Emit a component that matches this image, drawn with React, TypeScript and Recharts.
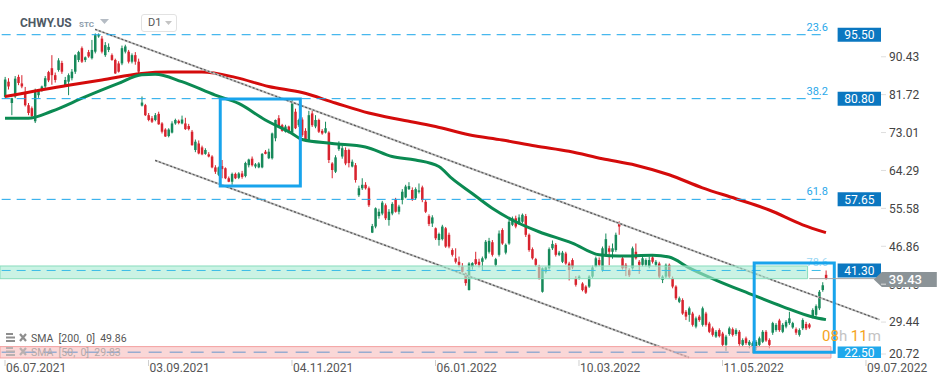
import {
  Bar,
  ComposedChart,
  Line,
  ReferenceArea,
  ReferenceLine,
  XAxis,
  YAxis,
} from "recharts";

// slot 0 is empty, candles start at slot 1, slots after the last candle stay empty
const SLOTS = 264;
const FIRST = 1;

// [open, high, low, close], one per trading day
const candles: [number, number, number, number][] = [
  [81.2, 85.8, 80.8, 85.2], [84.7, 85.5, 82.9, 83.6], [79.8, 81.0, 77.0, 80.9], [81.3, 86.0, 80.9, 85.4],
  [85.8, 86.3, 83.9, 84.4], [84.3, 86.2, 83.2, 83.6], [82.0, 83.5, 79.0, 79.3], [79.3, 79.8, 77.0, 77.5],
  [78.6, 79.0, 76.5, 76.8], [75.6, 83.1, 75.2, 82.8], [81.6, 83.0, 81.0, 82.7], [82.8, 83.8, 82.4, 83.6],
  [83.6, 86.0, 83.0, 85.5], [86.9, 87.2, 84.6, 85.0], [87.8, 90.8, 84.0, 86.2], [86.2, 86.8, 84.5, 85.1],
  [87.4, 90.1, 87.0, 89.6], [89.0, 89.5, 86.5, 87.0], [83.9, 85.8, 83.5, 85.1], [84.7, 86.6, 81.6, 86.2],
  [85.5, 87.6, 85.0, 87.0], [87.0, 91.0, 86.5, 90.8], [89.7, 91.8, 89.2, 91.5], [92.4, 92.8, 89.0, 89.3],
  [89.7, 90.5, 89.2, 90.3], [91.5, 92.0, 90.2, 90.5], [90.1, 94.3, 89.8, 92.0], [91.6, 95.8, 91.2, 95.4],
  [95.1, 95.8, 94.8, 95.4], [94.6, 95.2, 91.2, 91.6], [90.8, 93.8, 90.4, 93.1], [92.0, 93.5, 91.5, 92.7],
  [90.8, 91.2, 89.5, 89.7], [89.7, 90.0, 86.5, 86.6], [88.9, 89.4, 86.8, 87.0], [88.9, 93.0, 88.5, 92.4],
  [91.6, 93.2, 91.2, 92.8], [91.6, 92.0, 88.9, 89.3], [89.3, 91.2, 88.9, 90.8], [90.8, 91.5, 88.6, 89.3],
  [89.3, 90.0, 86.6, 87.0],
  // september gap down
  [79.2, 81.3, 79.0, 79.9], [79.3, 79.6, 76.8, 77.0], [77.0, 77.5, 75.6, 75.9], [76.3, 76.8, 75.2, 75.5],
  [75.9, 77.5, 75.6, 77.0], [77.3, 77.8, 74.8, 74.9], [75.1, 75.4, 72.8, 73.2], [73.7, 74.0, 72.0, 72.1],
  [72.2, 74.0, 71.9, 73.7], [73.0, 75.6, 72.8, 75.1], [75.1, 76.2, 74.8, 75.9], [75.7, 76.0, 74.9, 75.2],
  [75.1, 76.9, 74.9, 76.0], [75.1, 76.4, 73.6, 73.8], [74.5, 75.0, 73.5, 73.8], [73.2, 73.6, 70.0, 70.1],
  [69.0, 71.4, 68.5, 70.9], [70.5, 71.2, 68.0, 68.2], [69.6, 70.0, 67.8, 68.0], [68.1, 69.4, 67.9, 69.0],
  [68.0, 68.5, 67.3, 67.5], [67.5, 67.8, 64.8, 65.0], [65.0, 65.5, 63.5, 64.0], [63.3, 65.2, 63.0, 65.0],
  [65.3, 66.7, 62.5, 64.6], [64.8, 65.0, 62.3, 62.5], [62.5, 62.9, 61.6, 61.7], [61.7, 63.8, 61.0, 63.5],
  [63.5, 63.8, 62.3, 62.5], [62.6, 63.9, 62.3, 63.6], [63.6, 64.2, 62.4, 62.8], [63.0, 66.3, 62.7, 66.0],
  [65.5, 67.0, 65.0, 66.8], [67.0, 67.5, 65.2, 65.5], [65.2, 66.0, 64.8, 65.7], [65.0, 66.2, 64.8, 65.9],
  [65.0, 68.3, 64.8, 68.1], [68.6, 69.0, 68.0, 68.1], [67.1, 69.3, 66.9, 68.6], [67.1, 73.0, 66.8, 72.8],
  [71.7, 76.0, 71.0, 75.9], [76.3, 77.0, 74.3, 74.5], [74.7, 75.0, 73.2, 73.4], [73.2, 74.8, 73.0, 74.4],
  [74.4, 74.6, 72.8, 73.0], [73.0, 80.6, 72.5, 79.7], [77.8, 78.5, 73.8, 74.0], [74.7, 76.2, 74.3, 75.9],
  [76.0, 76.5, 72.0, 72.4], [73.4, 74.0, 71.0, 71.5], [71.3, 78.0, 71.0, 77.0], [77.4, 78.0, 74.3, 74.7],
  [74.4, 77.0, 74.0, 75.9], [75.9, 76.2, 72.9, 73.2], [73.4, 73.8, 72.5, 72.8], [73.0, 75.5, 72.8, 74.0],
  [73.0, 73.3, 66.0, 66.7], [65.9, 66.2, 62.5, 64.4], [64.0, 67.8, 63.7, 67.3], [69.2, 71.0, 68.8, 70.6],
  [67.5, 70.0, 67.0, 69.4], [69.0, 69.6, 65.5, 65.9], [69.0, 69.3, 65.0, 66.0], [65.2, 66.8, 65.0, 66.3],
  [65.5, 66.0, 61.5, 62.1], [58.6, 60.8, 58.2, 60.2], [60.2, 62.5, 59.8, 61.0], [61.0, 61.6, 59.9, 60.2],
  [60.2, 60.6, 55.9, 56.3],
  // december gap down
  [50.0, 52.0, 49.9, 51.5], [51.4, 55.8, 51.0, 55.6], [53.8, 55.5, 53.2, 54.8], [54.4, 57.3, 54.0, 56.9],
  [56.3, 56.7, 52.9, 53.3], [52.9, 55.4, 51.6, 54.8], [54.4, 57.0, 54.0, 56.6], [57.6, 58.0, 54.6, 54.8],
  [54.8, 56.4, 54.2, 56.0], [57.5, 60.0, 56.5, 59.4], [58.1, 61.0, 57.9, 60.6], [60.0, 61.6, 59.8, 60.7],
  [59.8, 60.4, 57.3, 57.7], [57.9, 60.4, 57.5, 60.0], [59.4, 61.3, 59.0, 59.7], [60.4, 60.8, 57.0, 57.5],
  [57.1, 57.5, 54.5, 54.8], [53.8, 54.2, 51.5, 52.0], [52.1, 54.0, 51.3, 53.5], [51.0, 51.2, 48.3, 48.7],
  [48.3, 50.0, 47.0, 49.7], [48.5, 51.8, 48.2, 51.4],
  [51.0, 51.3, 46.5, 46.8], [49.5, 50.0, 46.4, 46.8], [46.0, 46.4, 44.5, 44.9], [44.1, 46.4, 42.9, 43.3],
  [43.3, 44.5, 42.0, 42.6], [42.2, 43.0, 40.8, 41.0], [40.6, 40.8, 37.8, 38.4], [36.8, 43.2, 36.7, 42.9],
  [42.1, 43.2, 41.5, 43.0], [43.9, 45.6, 42.5, 42.8], [43.3, 44.0, 42.0, 42.6], [43.3, 44.5, 41.4, 44.1],
  [44.1, 48.3, 43.8, 47.9], [45.6, 48.8, 45.2, 48.1], [47.8, 48.3, 44.5, 44.9], [42.6, 44.2, 42.2, 43.9],
  [44.9, 50.5, 44.5, 49.8], [50.6, 51.0, 47.2, 47.5], [45.4, 47.5, 45.0, 47.2], [47.5, 53.0, 47.2, 52.5],
  [51.8, 53.7, 51.5, 53.3], [53.3, 53.9, 51.0, 51.4], [52.1, 54.2, 51.8, 53.5], [52.5, 54.4, 52.2, 54.1],
  [53.8, 54.3, 49.0, 49.5], [49.5, 49.8, 45.6, 46.0], [46.2, 46.6, 43.8, 44.1], [43.9, 44.2, 42.2, 42.6],
  [42.2, 42.6, 39.2, 39.5], [36.4, 42.0, 36.2, 41.8], [41.0, 42.2, 40.6, 42.0], [41.8, 46.6, 41.5, 46.2],
  [46.4, 48.2, 46.0, 47.4], [47.2, 47.6, 44.5, 44.9], [44.9, 45.8, 44.6, 45.4], [43.3, 45.8, 43.0, 45.4],
  [45.2, 45.6, 42.6, 42.9], [42.9, 43.3, 39.0, 41.4], [43.7, 44.1, 41.6, 42.0], [39.5, 40.0, 37.6, 38.0],
  [39.5, 40.2, 39.2, 39.9], [38.3, 38.6, 36.5, 36.8], [37.6, 37.9, 35.9, 36.2], [37.6, 40.2, 37.3, 39.9],
  [39.9, 42.4, 39.6, 42.0], [42.2, 44.5, 42.0, 44.1],
  [43.7, 44.3, 42.3, 42.6], [41.4, 46.8, 41.0, 46.4], [44.9, 49.8, 44.5, 48.5], [46.4, 47.0, 42.5, 45.6],
  [45.6, 47.5, 44.0, 46.4], [46.0, 50.0, 45.6, 49.5], [52.1, 52.6, 49.5, 51.4], [44.1, 44.5, 41.5, 41.8],
  [42.6, 43.0, 40.0, 41.8], [41.4, 41.8, 39.8, 40.2], [41.8, 46.8, 41.5, 46.4], [45.6, 47.5, 43.8, 44.1],
  [43.3, 43.7, 40.5, 42.6], [42.6, 44.5, 42.2, 44.1], [42.6, 44.1, 42.2, 43.7], [42.2, 44.5, 41.8, 43.7],
  [44.3, 44.9, 42.9, 43.3], [42.6, 43.7, 42.2, 43.3], [42.9, 43.3, 39.5, 39.9], [39.1, 40.2, 38.4, 39.9],
  [39.9, 42.9, 39.5, 42.6], [42.6, 42.9, 39.5, 39.9], [39.5, 39.9, 37.2, 37.6], [37.6, 37.9, 34.5, 34.9],
  [34.1, 35.3, 33.8, 34.9], [34.5, 34.9, 31.1, 31.4], [31.8, 32.2, 29.9, 30.7], [31.1, 33.0, 29.5, 32.6],
  [31.4, 31.8, 28.4, 28.8], [28.4, 30.7, 28.0, 30.3], [30.7, 31.1, 29.5, 29.9], [28.8, 33.0, 28.4, 32.6],
  [31.4, 31.8, 28.4, 28.8], [29.1, 29.5, 26.9, 27.2], [28.0, 28.4, 26.1, 26.5], [26.1, 27.6, 25.8, 27.2],
  [27.6, 28.0, 25.9, 26.2], [26.8, 27.2, 23.8, 24.2], [24.2, 26.5, 22.8, 26.1], [26.7, 28.4, 26.3, 28.0],
  [27.8, 28.2, 26.1, 26.5], [26.7, 28.0, 26.3, 27.6], [27.2, 27.6, 24.0, 24.4], [24.2, 25.7, 23.8, 25.3],
  [25.7, 26.1, 24.2, 24.6], [24.2, 25.3, 23.4, 24.9], [23.8, 25.0, 22.3, 24.6], [23.6, 25.3, 23.0, 24.9],
  [24.2, 26.1, 23.8, 25.7], [24.9, 27.6, 24.6, 27.2], [27.2, 27.6, 24.9, 25.2], [25.3, 25.7, 23.4, 24.2],
  [27.0, 29.5, 26.5, 29.2], [27.6, 29.2, 27.2, 28.8], [29.8, 30.2, 27.2, 27.6], [27.2, 29.2, 26.9, 28.8],
  [28.4, 29.9, 28.0, 29.5], [29.2, 31.8, 28.8, 30.3], [28.2, 29.5, 27.9, 29.2], [27.8, 28.2, 26.5, 27.0],
  [26.5, 28.0, 26.1, 27.6], [28.0, 30.3, 27.6, 29.9], [29.0, 29.5, 27.6, 28.0], [28.9, 29.2, 27.9, 28.2],
  [30.7, 32.6, 30.3, 32.2], [31.1, 33.5, 30.7, 33.1], [32.6, 36.8, 32.2, 36.4], [36.8, 38.6, 36.4, 37.9],
  [40.3, 41.3, 39.2, 39.4],
];

// moving averages: [slot, value]
const sma200Pts: [number, number][] = [
  [1, 81.3], [20, 83.9], [30, 85.1], [42, 86.6], [50, 86.9], [60, 86.9], [70, 85.7], [80, 83.6],
  [90, 82.2], [100, 79.8], [110, 77.5], [120, 75.9], [130, 74.4], [140, 72.5], [150, 71.3],
  [160, 69.9], [170, 68.7], [180, 67.0], [190, 65.5], [200, 63.3], [210, 60.3], [220, 57.8],
  [230, 55.2], [240, 51.8], [247, 50.0],
];
const sma50Pts: [number, number][] = [
  [1, 76.3], [8, 76.3], [15, 77.9], [25, 81.2], [35, 84.3], [42, 86.3], [46, 86.4], [54, 84.7],
  [64, 81.6], [71, 79.7], [79, 75.9], [87, 72.8], [90, 71.4], [99, 70.5], [109, 69.7], [117, 67.5],
  [124, 66.7], [131, 65.2], [135, 62.4], [141, 59.0], [147, 55.6], [153, 52.9], [161, 50.2],
  [171, 47.6], [179, 44.9], [185, 44.6], [195, 44.8], [200, 44.4], [206, 41.9], [214, 39.1],
  [224, 36.0], [234, 33.0], [243, 30.6], [247, 30.0],
];

const dateTicks = [1, 44, 87, 130, 173, 216, 259];
const dateLabels = ["06.07.2021", "03.09.2021", "04.11.2021", "06.01.2022", "10.03.2022", "11.05.2022", "09.07.2022"];
const priceTicks = [20.72, 29.44, 38.15, 46.86, 55.58, 64.29, 73.01, 81.72, 90.43];

const fibLevels = [95.5, 80.8, 57.65, 41.3];
const fibNames = ["23.6", "38.2", "61.8", "78.6"];
const supportLevel = 22.5;
const lastPrice = 39.43;

const GREEN = "#16895a";
const RED = "#d8232e";
const BLUE = "#18a4ec";

const rows: any[] = Array.from({ length: SLOTS }, (_, i) => {
  const k = candles[i - FIRST];
  return k ? { i, o: k[0], h: k[1], l: k[2], c: k[3] } : { i };
});
sma200Pts.forEach(([i, v]) => (rows[i].sma200 = v));
sma50Pts.forEach(([i, v]) => (rows[i].sma50 = v));

function Candle(props: any) {
  const { x, y, width, height, payload } = props;
  if (!payload || payload.h == null) return null;
  const { o, h, l, c } = payload;
  const top = Math.min(y, y + height);
  const span = Math.abs(height);
  const py = (v: number) => (h === l ? top : top + ((h - v) / (h - l)) * span);
  const cx = x + width / 2;
  const color = c >= o ? GREEN : RED;
  const bTop = py(Math.max(o, c));
  const bH = Math.max(1, py(Math.min(o, c)) - bTop);
  return (
    <g>
      <line x1={cx} x2={cx} y1={top} y2={top + span} stroke={color} strokeWidth={1} />
      <rect x={cx - 1.25} y={bTop} width={2.5} height={bH} fill={color} />
    </g>
  );
}

function DateTick(props: any) {
  const { x, y, payload } = props;
  const label = dateLabels[dateTicks.indexOf(payload.value)];
  return (
    <g>
      <line x1={x} x2={x} y1={y - 8} y2={y - 2} stroke="#cfcfcf" />
      <text x={x + 1} y={y + 4} fill="#555" fontSize={12} textAnchor="start">
        {label}
      </text>
    </g>
  );
}

// the 38.15 tick sits under the last-price tag: only the sliver below the tag shows
function PriceTick(props: any) {
  const { x, y, payload } = props;
  const v = payload.value;
  const yy = v === priceTicks[0] ? y - 6 : y;
  const hidden = v === priceTicks[2];
  return (
    <g>
      {hidden && (
        <defs>
          <clipPath id="below-tag">
            <rect x={x - 10} y={yy + 3} width={60} height={12} />
          </clipPath>
        </defs>
      )}
      <line x1={x - 8} x2={x - 3} y1={yy} y2={yy} stroke="#dedede" />
      <text
        x={x}
        y={yy}
        dy="0.36em"
        fill="#444"
        fontSize={12}
        textAnchor="start"
        clipPath={hidden ? "url(#below-tag)" : undefined}
      >
        {v.toFixed(2)}
      </text>
    </g>
  );
}

function FibLabel(name: string, color: string) {
  return (p: any) => {
    const vb = p.viewBox;
    return (
      <text x={vb.x + vb.width + 2} y={vb.y - 4} fill={color} fontSize={11} textAnchor="end">
        {name}
      </text>
    );
  };
}

function LastPriceLabel(p: any) {
  const vb = p.viewBox;
  const x0 = vb.x + vb.width + 1.5;
  const yc = vb.y + 1;
  const pts = `${x0 - 7},${yc} ${x0 + 1},${yc - 7.5} ${x0 + 56},${yc - 7.5} ${x0 + 56},${yc + 7.5} ${x0 + 1},${yc + 7.5}`;
  return (
    <g>
      <polygon points={pts} fill="#8b9397" />
      <text x={x0 + 8} y={yc} dy="0.36em" fill="#fff" fontSize={13} fontWeight={500}>
        {lastPrice.toFixed(2)}
      </text>
    </g>
  );
}

function ListIcon({ x, y, color }: any) {
  return (
    <svg style={{ position: "absolute", left: x, top: y }} width={22} height={10}>
      <rect x={0} y={0} width={7} height={2} fill={color} />
      <rect x={0} y={3.5} width={9} height={2} fill={color} />
      <rect x={0} y={7} width={9} height={2} fill={color} />
      <path d="M14 1 L20 8 M20 1 L14 8" stroke={color} strokeWidth={2.2} />
    </svg>
  );
}

export default function App() {
  return (
    <div
      style={{
        position: "absolute",
        left: 0,
        top: 0,
        width: 949,
        height: 385,
        background: "#fff",
        fontFamily: "Roboto, sans-serif",
        overflow: "hidden",
      }}
    >
      <ComposedChart width={949} height={385} data={rows} margin={{ top: 0, right: 0, bottom: 0, left: 0 }}>
        <XAxis
          dataKey="i"
          type="category"
          ticks={dateTicks}
          interval={0}
          height={25}
          axisLine={false}
          tickLine={false}
          tick={<DateTick />}
        />
        <YAxis
          orientation="right"
          type="number"
          domain={[20.72, 103.48]}
          allowDataOverflow
          ticks={priceTicks}
          width={68}
          axisLine={false}
          tickLine={false}
          tick={<PriceTick />}
        />
        <Bar
          dataKey={(d: any) => (d.h == null ? null : [d.l, d.h])}
          shape={<Candle />}
          isAnimationActive={false}
        />
        <Line
          dataKey="sma200"
          type="monotone"
          stroke="#d40b0b"
          strokeWidth={3}
          dot={false}
          connectNulls
          isAnimationActive={false}
        />
        <Line
          dataKey="sma50"
          type="monotone"
          stroke="#0b8a52"
          strokeWidth={3}
          dot={false}
          connectNulls
          isAnimationActive={false}
        />
        {/* falling channel */}
        <ReferenceLine segment={[{ x: 28, y: 96.74 }, { x: 263, y: 30.0 }]} stroke="#bdbdbd" strokeWidth={2} zIndex={450} />
        <ReferenceLine segment={[{ x: 28, y: 96.74 }, { x: 263, y: 30.0 }]} stroke="#555" strokeWidth={1.2} strokeDasharray="2 2" zIndex={451} />
        <ReferenceLine segment={[{ x: 46, y: 66.6 }, { x: 206, y: 21.3 }]} stroke="#bdbdbd" strokeWidth={2} zIndex={450} />
        <ReferenceLine segment={[{ x: 46, y: 66.6 }, { x: 206, y: 21.3 }]} stroke="#555" strokeWidth={1.2} strokeDasharray="2 2" zIndex={451} />
        {/* zones */}
        <ReferenceArea x1={0} x2={241} y1={39.41} y2={42.33} fill="#a9ecd4" fillOpacity={0.62} stroke="#88ddbd" zIndex={550} />
        <ReferenceArea x1={0} x2={248} y1={21.18} y2={23.8} fill="#f7bcbc" fillOpacity={0.6} stroke="#f3a2a2" zIndex={550} />
        {/* fibonacci levels */}
        {fibLevels.map((lvl, k) => (
          <ReferenceLine
            key={lvl}
            segment={[{ x: 0, y: lvl }, { x: 247, y: lvl }]}
            stroke={k === 3 ? "#3cbde6" : "#1aa6ea"}
            strokeDasharray="9 6"
            zIndex={560}
            label={FibLabel(fibNames[k], k === 3 ? "#9ad6f3" : "#2aa8ea")}
          />
        ))}
        <ReferenceLine
          segment={[{ x: 0, y: supportLevel }, { x: 249, y: supportLevel }]}
          stroke="#98acd0"
          strokeWidth={1.3}
          strokeDasharray="13 8"
          zIndex={560}
        />
        {/* highlight boxes */}
        <ReferenceArea x1={66} x2={89} y1={60.7} y2={80.7} fill="none" fillOpacity={0} stroke={BLUE} strokeWidth={3} zIndex={570} />
        <ReferenceArea x1={226} x2={249} y1={22.5} y2={43.0} fill="none" fillOpacity={0} stroke={BLUE} strokeWidth={3} zIndex={570} />
        {/* level price tags */}
        {fibLevels.map((lvl) => (
          <ReferenceArea
            key={"tag" + lvl}
            x1={251}
            x2={263}
            y1={lvl - 1.61}
            y2={lvl + 1.61}
            fill="#0b77c0"
            fillOpacity={1}
            zIndex={580}
            label={{ value: lvl.toFixed(2), fill: "#fff", fontSize: 12, position: "center" }}
          />
        ))}
        <ReferenceArea
          x1={251}
          x2={263}
          y1={supportLevel - 1.3}
          y2={supportLevel + 1.3}
          fill="#1fa8ec"
          fillOpacity={1}
          zIndex={580}
          label={{ value: supportLevel.toFixed(2), fill: "#fff", fontSize: 12, position: "center" }}
        />
        <ReferenceLine
          segment={[{ x: 242, y: lastPrice }, { x: 263, y: lastPrice }]}
          stroke="#a5a5a5"
          zIndex={590}
          label={LastPriceLabel}
        />
      </ComposedChart>

      {/* header */}
      <div style={{ position: "absolute", left: 20, top: 16, fontSize: 12, fontWeight: 700, color: "#4f5a65" }}>CHWY.US</div>
      <div style={{ position: "absolute", left: 79, top: 20, fontSize: 8, fontWeight: 700, color: "#8c9cab" }}>STC</div>
      <svg style={{ position: "absolute", left: 100, top: 19 }} width={10} height={6}>
        <path d="M0 0 L9 0 L4.5 5 Z" fill="#b5bcc4" />
      </svg>
      <div
        style={{
          position: "absolute",
          left: 141,
          top: 14,
          width: 34,
          height: 16,
          border: "1px solid #e2e2e2",
          borderRadius: 3,
        }}
      >
        <span style={{ position: "absolute", left: 6, top: 1, fontSize: 11, color: "#555" }}>D1</span>
        <svg style={{ position: "absolute", left: 23, top: 6 }} width={8} height={5}>
          <path d="M0 0 L7 0 L3.5 4 Z" fill="#c4c4c4" />
        </svg>
      </div>

      {/* indicator legend */}
      <ListIcon x={6} y={333} color="#8e8e8e" />
      <div style={{ position: "absolute", left: 31, top: 332, fontSize: 10.5, color: "#555", whiteSpace: "pre" }}>
        SMA  [200,  0]  49.86
      </div>
      <ListIcon x={6} y={347} color="#b9b0b0" />
      <div style={{ position: "absolute", left: 31, top: 346, fontSize: 10.5, color: "#b4a9a9", whiteSpace: "pre" }}>
        SMA  [50,  0]  29.83
      </div>

      {/* candle countdown */}
      <div style={{ position: "absolute", left: 822, top: 327, fontSize: 15, whiteSpace: "pre" }}>
        <span style={{ color: "#f5a31c" }}>08</span>
        <span style={{ color: "#c3c3c3" }}>h </span>
        <span style={{ color: "#f5a31c" }}>11</span>
        <span style={{ color: "#c3c3c3" }}>m</span>
      </div>
    </div>
  );
}
